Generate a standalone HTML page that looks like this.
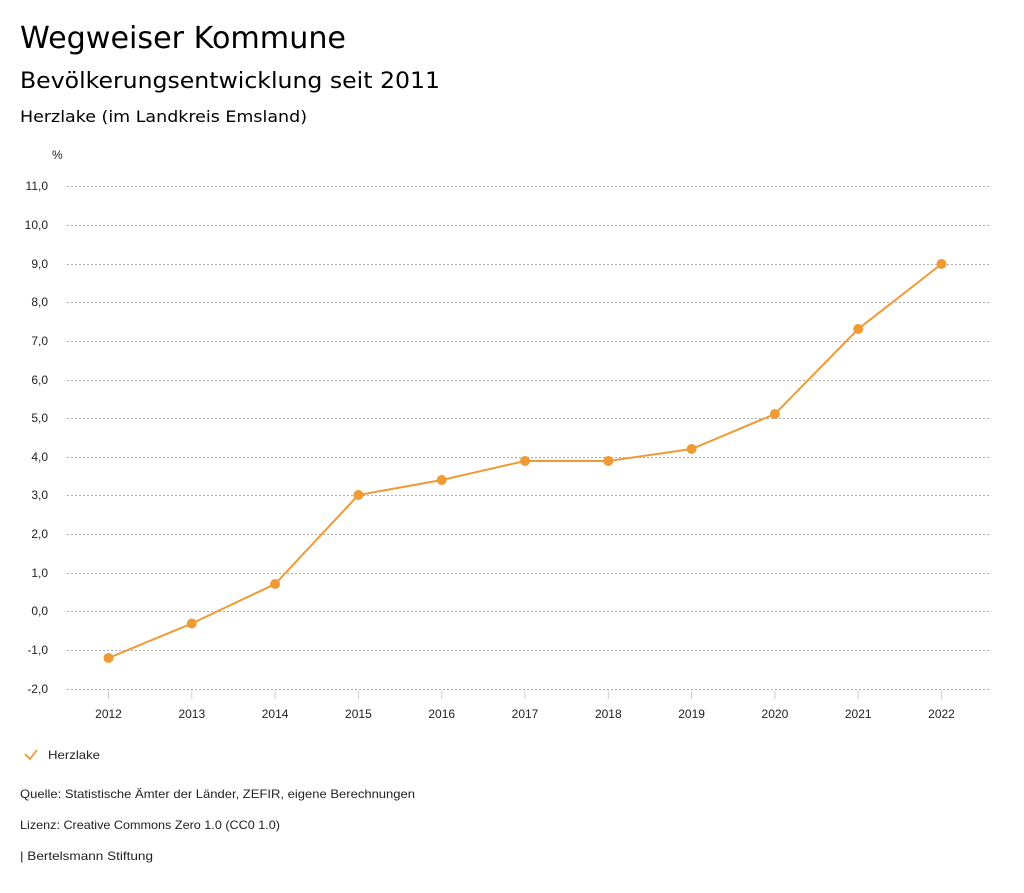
<!DOCTYPE html>
<html><head><meta charset="utf-8"><style>
body{margin:0;background:#fff;width:1024px;height:888px;overflow:hidden;font-family:"Liberation Sans",sans-serif;}
</style></head><body>
<svg width="1024" height="888" xmlns="http://www.w3.org/2000/svg" font-family="DejaVu Sans, Liberation Sans, sans-serif">
<text x="20" y="48" font-size="30" fill="#000" textLength="326" lengthAdjust="spacingAndGlyphs">Wegweiser Kommune</text>
<text x="20" y="88" font-size="22" fill="#000" textLength="420" lengthAdjust="spacingAndGlyphs">Bevölkerungsentwicklung seit 2011</text>
<text x="20" y="122" font-size="16" fill="#000" textLength="287" lengthAdjust="spacingAndGlyphs">Herzlake (im Landkreis Emsland)</text>
<g font-family="Liberation Sans, sans-serif">
<text x="52" y="159" font-size="12" fill="#222">%</text>
<g stroke="#aaa" stroke-dasharray="2,2" stroke-width="1">
<line x1="67" x2="990" y1="186.5" y2="186.5"/><line x1="67" x2="990" y1="225.5" y2="225.5"/>
<line x1="67" x2="990" y1="264.5" y2="264.5"/><line x1="67" x2="990" y1="302.5" y2="302.5"/>
<line x1="67" x2="990" y1="341.5" y2="341.5"/><line x1="67" x2="990" y1="380.5" y2="380.5"/>
<line x1="67" x2="990" y1="418.5" y2="418.5"/><line x1="67" x2="990" y1="457.5" y2="457.5"/>
<line x1="67" x2="990" y1="495.5" y2="495.5"/><line x1="67" x2="990" y1="534.5" y2="534.5"/>
<line x1="67" x2="990" y1="573.5" y2="573.5"/><line x1="67" x2="990" y1="611.5" y2="611.5"/>
<line x1="67" x2="990" y1="650.5" y2="650.5"/><line x1="67" x2="990" y1="689.5" y2="689.5"/>
</g>
<g font-size="12" fill="#222" text-anchor="end">
<text x="48" y="190">11,0</text><text x="48" y="229">10,0</text><text x="48" y="268">9,0</text>
<text x="48" y="306">8,0</text><text x="48" y="345">7,0</text><text x="48" y="384">6,0</text>
<text x="48" y="422">5,0</text><text x="48" y="461">4,0</text><text x="48" y="499">3,0</text>
<text x="48" y="538">2,0</text><text x="48" y="577">1,0</text><text x="48" y="615">0,0</text>
<text x="48" y="654">-1,0</text><text x="48" y="693">-2,0</text>
</g>
<g stroke="#ccc"><line x1="108.5" x2="108.5" y1="691" y2="699"/><line x1="191.8" x2="191.8" y1="691" y2="699"/><line x1="275.1" x2="275.1" y1="691" y2="699"/><line x1="358.4" x2="358.4" y1="691" y2="699"/><line x1="441.7" x2="441.7" y1="691" y2="699"/><line x1="525" x2="525" y1="691" y2="699"/><line x1="608.3" x2="608.3" y1="691" y2="699"/><line x1="691.6" x2="691.6" y1="691" y2="699"/><line x1="774.9" x2="774.9" y1="691" y2="699"/><line x1="858.2" x2="858.2" y1="691" y2="699"/><line x1="941.5" x2="941.5" y1="691" y2="699"/></g>
<g font-size="12" fill="#222" text-anchor="middle">
<text x="108.5" y="718">2012</text><text x="191.8" y="718">2013</text><text x="275.1" y="718">2014</text><text x="358.4" y="718">2015</text><text x="441.7" y="718">2016</text><text x="525" y="718">2017</text><text x="608.3" y="718">2018</text><text x="691.6" y="718">2019</text><text x="774.9" y="718">2020</text><text x="858.2" y="718">2021</text><text x="941.5" y="718">2022</text>
</g>
<polyline fill="none" stroke="#f09a36" stroke-width="2" points="108.5,658 191.8,623.5 275.1,584 358.4,495 441.7,480 525,461 608.3,461 691.6,449 774.9,414 858.2,329 941.5,264"/>
<g fill="#f09a36">
<circle cx="108.5" cy="658" r="5"/><circle cx="191.8" cy="623.5" r="5"/><circle cx="275.1" cy="584" r="5"/><circle cx="358.4" cy="495" r="5"/><circle cx="441.7" cy="480" r="5"/><circle cx="525" cy="461" r="5"/><circle cx="608.3" cy="461" r="5"/><circle cx="691.6" cy="449" r="5"/><circle cx="774.9" cy="414" r="5"/><circle cx="858.2" cy="329" r="5"/><circle cx="941.5" cy="264" r="5"/>
</g>
<polyline fill="none" stroke="#f09a36" stroke-width="1.8" points="25,754 30,759 37,750"/>
<text x="48" y="759" font-size="12" fill="#222" textLength="52" lengthAdjust="spacingAndGlyphs">Herzlake</text>
<text x="20" y="798" font-size="12" fill="#222" textLength="395" lengthAdjust="spacingAndGlyphs">Quelle: Statistische Ämter der Länder, ZEFIR, eigene Berechnungen</text>
<text x="20" y="829" font-size="12" fill="#222" textLength="260" lengthAdjust="spacingAndGlyphs">Lizenz: Creative Commons Zero 1.0 (CC0 1.0)</text>
<text x="20" y="860" font-size="12" fill="#222" textLength="133" lengthAdjust="spacingAndGlyphs">| Bertelsmann Stiftung</text>
</g>
</svg>
</body></html>
